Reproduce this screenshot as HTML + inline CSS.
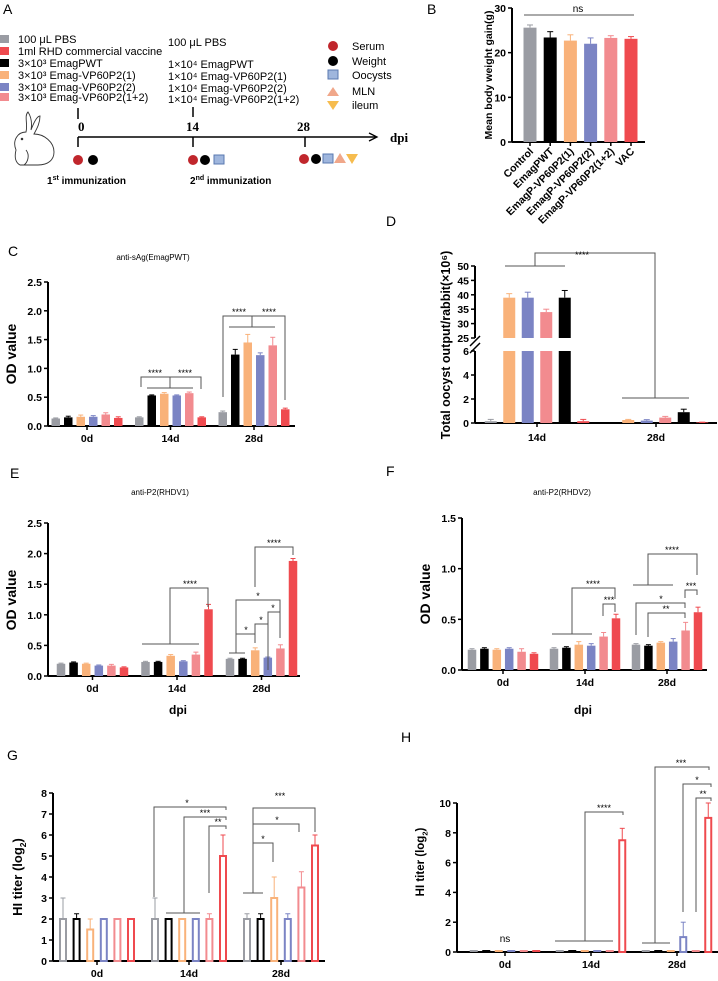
<!DOCTYPE html>
<html><head><meta charset="utf-8">
<style>
body{margin:0;background:#fff;}
svg{display:block;font-family:"Liberation Sans",Arial,sans-serif;}
.t{font-weight:bold;font-size:10.5px;}
.lg{font-size:11px;}
.pl{font-size:14px;}
.st{font-size:9px;}
</style></head>
<body>
<svg id="fig" width="718" height="981" viewBox="0 0 718 981" xmlns="http://www.w3.org/2000/svg">
<text class="pl" x="3" y="14">A</text>
<text class="pl" x="427" y="14">B</text>
<text class="pl" x="8" y="256">C</text>
<text class="pl" x="386" y="226">D</text>
<text class="pl" x="10" y="478">E</text>
<text class="pl" x="386" y="476">F</text>
<text class="pl" x="7" y="760">G</text>
<text class="pl" x="401" y="742">H</text>

<g>
<rect x="0" y="35" width="9" height="8" fill="#9a9ca3"/><text class="lg" x="18" y="43">100 μL PBS</text>
<rect x="0" y="47" width="9" height="8" fill="#ef4a4f"/><text class="lg" x="18" y="55">1ml RHD commercial vaccine</text>
<rect x="0" y="59" width="9" height="8" fill="#000"/><text class="lg" x="18" y="67">3×10³ EmagPWT</text>
<rect x="0" y="71" width="9" height="8" fill="#f9b27a"/><text class="lg" x="18" y="79">3×10³ Emag-VP60P2(1)</text>
<rect x="0" y="83" width="9" height="8" fill="#7b84c4"/><text class="lg" x="18" y="91">3×10³ Emag-VP60P2(2)</text>
<rect x="0" y="93" width="9" height="8" fill="#f28b8f"/><text class="lg" x="18" y="101">3×10³ Emag-VP60P2(1+2)</text>
<text class="lg" x="168" y="46">100 μL PBS</text>
<text class="lg" x="168" y="68">1×10⁴ EmagPWT</text>
<text class="lg" x="168" y="80">1×10⁴ Emag-VP60P2(1)</text>
<text class="lg" x="168" y="92">1×10⁴ Emag-VP60P2(2)</text>
<text class="lg" x="168" y="103">1×10⁴ Emag-VP60P2(1+2)</text>
<circle cx="333" cy="46" r="5" fill="#c0262c"/><text class="lg" x="352" y="50">Serum</text>
<circle cx="333" cy="61" r="5" fill="#000"/><text class="lg" x="352" y="65">Weight</text>
<rect x="328" y="70" width="10" height="9" fill="#9fb6dd" stroke="#5a78b0"/><text class="lg" x="352" y="79">Oocysts</text>
<polygon points="333,87 339,96 327,96" fill="#f0a78a"/><text class="lg" x="352" y="95">MLN</text>
<polygon points="327,101 339,101 333,110" fill="#f6bc4e"/><text class="lg" x="352" y="109">ileum</text>
</g>
<g stroke="#000">
<line x1="78" y1="137" x2="376" y2="137" stroke-width="1.5"/>
<polyline points="369,133 377,137 369,141" fill="none" stroke-width="1.3"/>
<line x1="78" y1="108" x2="78" y2="119" stroke-width="1.5"/>
<line x1="193" y1="107" x2="193" y2="117" stroke-width="1.5"/>
<line x1="78" y1="137" x2="78" y2="147" stroke-width="1.5"/>
<line x1="193" y1="137" x2="193" y2="147" stroke-width="1.5"/>
<line x1="305" y1="137" x2="305" y2="147" stroke-width="1.5"/>
</g>
<g font-family="Liberation Serif,serif" font-weight="bold" font-size="13">
<text x="78" y="131">0</text><text x="186" y="131">14</text><text x="297" y="131">28</text><text x="390" y="142">dpi</text>
</g>
<g>
<circle cx="78" cy="160" r="5" fill="#c0262c"/><circle cx="93" cy="160" r="5" fill="#000"/>
<circle cx="193" cy="160" r="5" fill="#c0262c"/><circle cx="205" cy="160" r="5" fill="#000"/><rect x="214" y="155" width="10" height="9" fill="#9fb6dd" stroke="#5a78b0"/>
<circle cx="304" cy="159" r="5" fill="#c0262c"/><circle cx="316" cy="159" r="5" fill="#000"/><rect x="323" y="154" width="10" height="9" fill="#9fb6dd" stroke="#5a78b0"/>
<polygon points="340,153 346,163 334,163" fill="#f0a78a"/><polygon points="346,154 358,154 352,164" fill="#f6bc4e"/>
</g>
<text font-size="10" font-weight="bold" x="47" y="184">1<tspan font-size="7" dy="-4">st</tspan><tspan dy="4"> immunization</tspan></text>
<text font-size="10" font-weight="bold" x="190" y="184">2<tspan font-size="7" dy="-4">nd</tspan><tspan dy="4"> immunization</tspan></text>
<g fill="none" stroke="#333" stroke-width="0.9">
<path d="M16 150 C12 140 18 132 26 132 C28 124 24 116 28 112 C32 118 32 124 31 130 C34 122 37 116 40 116 C40 124 36 130 34 134 C44 134 54 142 54 152 C54 160 48 165 38 165 L20 165 C16 163 14 158 16 150 Z"/>
<circle cx="22" cy="139" r="0.8" fill="#333"/>
<path d="M26 150 C30 155 28 162 24 165"/>
</g>

<g id="charts"></g>
</svg>
<script>
const colors = ["#9a9ca3","#000000","#f9b27a","#7b84c4","#f28b8f","#ef4a4f"];
const groupLabels = ["0d","14d","28d"];

const bCategories = ["Control","EmagPWT","EmagP-VP60P2(1)","EmagP-VP60P2(2)","EmagP-VP60P2(1+2)","VAC"];
const bColors = ["#9a9ca3","#000000","#f9b27a","#7b84c4","#f28b8f","#ef4a4f"];
const bValues = [25.6, 23.4, 22.7, 22.0, 23.3, 23.1];
const bErrors = [0.6, 1.3, 1.3, 1.3, 0.5, 0.5];
const bTicks = [0, 10, 20, 30];

const cValues = [[0.13,0.15,0.16,0.16,0.20,0.14],[0.15,0.53,0.56,0.53,0.57,0.15],[0.24,1.24,1.45,1.23,1.40,0.29]];
const cErrors = [[0.01,0.02,0.03,0.02,0.03,0.02],[0.01,0.01,0.02,0.01,0.02,0.01],[0.02,0.09,0.14,0.04,0.14,0.02]];
const odTicks = [0.0,0.5,1.0,1.5,2.0,2.5];

const dGroups = ["14d","28d"];
const dColors = ["#9a9ca3","#f9b27a","#7b84c4","#f28b8f","#000000","#ef4a4f"];
const dValues = [[0.15,39,39,34,39,0.15],[0,0.25,0.2,0.45,0.9,0.05]];
const dErrors = [[0.15,1.4,1.9,1.0,2.5,0.15],[0,0.05,0.08,0.1,0.25,0.02]];
const dTicksLow = [0,2,4,6];
const dTicksHigh = [25,30,35,40,45,50];

const eValues = [[0.20,0.22,0.20,0.17,0.17,0.14],[0.23,0.23,0.33,0.24,0.35,1.09],[0.28,0.28,0.42,0.30,0.45,1.88]];
const eErrors = [[0.01,0.01,0.01,0.01,0.02,0.01],[0.01,0.01,0.02,0.01,0.04,0.08],[0.01,0.01,0.04,0.01,0.06,0.04]];

const fValues = [[0.20,0.21,0.20,0.21,0.18,0.16],[0.21,0.22,0.25,0.24,0.33,0.51],[0.25,0.24,0.27,0.28,0.39,0.57]];
const fErrors = [[0.01,0.01,0.01,0.01,0.03,0.01],[0.01,0.01,0.03,0.02,0.04,0.04],[0.01,0.01,0.01,0.03,0.08,0.05]];
const fTicks = [0.0,0.5,1.0,1.5];

const gValues = [[2,2,1.5,2,2,2],[2,2,2,2,2,5],[2,2,3,2,3.5,5.5]];
const gErrors = [[1,0.25,0.5,0,0,0],[1,0,0,0,0.25,1],[0.25,0.25,1,0.25,0.75,0.5]];
const gTicks = [0,1,2,3,4,5,6,7,8];

const hValues = [[0,0,0,0,0,0],[0,0,0,0,0,7.5],[0,0,0,1,0,9]];
const hErrors = [[0,0,0,0,0,0],[0,0,0,0,0,0.8],[0,0,0,1,0,1]];
const hTicks = [0,2,4,6,8,10];

const NS = "http://www.w3.org/2000/svg";
const root = document.getElementById("charts");
function mk(tag, attrs, parent){
  const e = document.createElementNS(NS, tag);
  for (const k in attrs) e.setAttribute(k, attrs[k]);
  (parent||root).appendChild(e);
  return e;
}
function txt(s, x, y, attrs, parent){
  const e = mk("text", Object.assign({x:x,y:y}, attrs), parent);
  e.textContent = s; return e;
}
function line(x1,y1,x2,y2,c,w,parent){ return mk("line",{x1,y1,x2,y2,stroke:c||"#000","stroke-width":w||1},parent); }
function poly(pts, c, parent){ return mk("polyline",{points:pts,fill:"none",stroke:c||"#555","stroke-width":1},parent); }
function hiLabel(x, y, fs){
  const t = mk("text",{x:x,y:y,"text-anchor":"middle","font-weight":"bold","font-size":fs,transform:"rotate(-90 "+x+" "+y+")"});
  
  
  const a = mk("tspan",{},t); a.textContent = "HI titer (log";
  const b = mk("tspan",{"font-size":fs*0.65,dy:fs*0.3},b0=t); b.textContent = "2";
  const c = mk("tspan",{dy:-fs*0.3},t); c.textContent = ")";
}

function groupedChart(o){
  const g = mk("g",{});
  
  
  const ys = v => o.ybase - (v/o.vmax)*(o.ybase-o.ytop);
  const xs = (gi,bi) => o.x0 + gi*o.gstep + (bi-2.5)*o.bstep;
  line(o.ax, o.ytop, o.ax, o.ybase, "#000", 2, g);
  line(o.ax, o.ybase, o.axEnd, o.ybase, "#000", 2, g);
  o.ticks.forEach(t=>{
    const y = ys(t);
    line(o.ax-4, y, o.ax, y, "#000", 1.5, g);
    const tl = txt(o.fmt ? t.toFixed(1) : String(t), o.ax-6, y+4, {"text-anchor":"end","class":"t"}, g);
    
    
  });
  o.values.forEach((grp,gi)=>{
    const gx = o.x0 + gi*o.gstep;
    line(gx, o.ybase, gx, o.ybase+4, "#000", 1.5, g);
    const gl = txt(groupLabels[gi], gx, o.ybase+16, {"text-anchor":"middle","class":"t","font-size":"11"}, g);
    
    
    grp.forEach((v,bi)=>{
      const x = xs(gi,bi), y = ys(v), c = colors[bi];
      const er = o.errors[gi][bi];
      if (er>0){
        const ye = ys(v+er);
        line(x, y, x, ye, c, 1, g);
        line(x-2.5, ye, x+2.5, ye, c, 1, g);
      }
      let r;
      if (o.hollow){
        r = mk("rect",{x:x-o.bw/2+1,y:y,width:o.bw-2,height:Math.max(0,o.ybase-y),fill:"#fff","fill-opacity":"0",stroke:c,"stroke-width":2},g);
        if (v===0) r = mk("rect",{x:x-o.bw/2,y:o.ybase-2,width:o.bw,height:2,fill:c},g);
      } else {
        r = mk("rect",{x:x-o.bw/2,y:y,width:o.bw,height:o.ybase-y,fill:c},g);
      }
      
      
    });
  });
  return g;
}

(function(){
  const g = mk("g",{});
  
  
  const ax=512, yb=142, yt=8, vmax=30;
  const ys = v => yb - v/vmax*(yb-yt);
  const xs = i => 530 + i*20.2;
  line(ax, yt, ax, yb, "#000", 2, g);
  line(ax, yb, 645, yb, "#000", 2, g);
  bTicks.forEach(t=>{ line(ax-4, ys(t), ax, ys(t), "#000", 1.5, g);
    const tl = txt(String(t), ax-6, ys(t)+4, {"text-anchor":"end","class":"t"}, g);
    
    
  });
  bValues.forEach((v,i)=>{
    const x = xs(i), y = ys(v), c = bColors[i];
    const ye = ys(v + bErrors[i]);
    line(x, y, x, ye, c, 1, g); line(x-3, ye, x+3, ye, c, 1, g);
    const r = mk("rect",{x:x-6.5,y:y,width:13,height:yb-y,fill:c},g);
    
    
    line(x, yb, x, yb+4, "#000", 1.5, g);
    const l = txt(bCategories[i], x+4, yb+10, {"text-anchor":"end","class":"t","font-size":"10",transform:"rotate(-45 "+(x+4)+" "+(yb+10)+")"}, g);
    
    
  });
  line(524, 15, 634, 15, "#555", 1, g);
  txt("ns", 578, 12, {"text-anchor":"middle","font-size":"10"}, g);
  const yl = txt("Mean body weight gain(g)", 492, 75, {"text-anchor":"middle","class":"t","font-size":"10.5",transform:"rotate(-90 492 75)"}, g);
  
  
})();

groupedChart({name:"anti-sag-chart",ax:48,axEnd:295,ytop:282,ybase:426,vmax:2.5,x0:87,gstep:83.5,bstep:12.5,bw:8.5,values:cValues,errors:cErrors,ticks:odTicks,fmt:true});
txt("anti-sAg(EmagPWT)", 153, 260, {"text-anchor":"middle","font-size":"8"});
txt("OD value", 16, 354, {"text-anchor":"middle","font-weight":"bold","font-size":"14",transform:"rotate(-90 16 354)"});
poly("141,387 141,377 201,377 201,389","#555"); poly("147,388 193,388","#555"); poly("170,377 170,388","#555");
txt("****",155,376,{"class":"st","text-anchor":"middle"}); txt("****",185,376,{"class":"st","text-anchor":"middle"});
poly("223,397 223,316 285,316 285,400","#555"); poly("229,327 275,327","#555"); poly("252,316 252,327","#555");
txt("****",239,315,{"class":"st","text-anchor":"middle"}); txt("****",269,315,{"class":"st","text-anchor":"middle"});

(function(){
  const g = mk("g",{});
  
  
  const ax=475, yb=423, lowTop=351, hiBot=338, hiTop=266;
  const yLow = v => yb - v/6*(yb-lowTop);
  const yHi = v => hiBot - (v-25)/25*(hiBot-hiTop);
  const ys = v => v<=6 ? yLow(v) : (v>=25 ? yHi(v) : lowTop);
  const xs = (gi,bi) => [537,656][gi] + (bi-2.5)*18.5;
  line(ax, lowTop, ax, yb, "#000", 2, g);
  line(ax, hiTop, ax, hiBot, "#000", 2, g);
  line(ax-5, hiBot+8, ax+5, hiBot-2, "#000", 1.5, g);
  line(ax-5, lowTop+2, ax+5, lowTop-8, "#000", 1.5, g);
  line(ax, yb, 717, yb, "#000", 2, g);
  dTicksLow.forEach(t=>{ line(ax-4,yLow(t),ax,yLow(t),"#000",1.5,g);
    const tl = txt(String(t), ax-6, yLow(t)+4, {"text-anchor":"end","class":"t","font-size":"11.5"}, g);
      });
  dTicksHigh.forEach(t=>{ line(ax-4,yHi(t),ax,yHi(t),"#000",1.5,g);
    const tl = txt(String(t), ax-6, yHi(t)+4, {"text-anchor":"end","class":"t","font-size":"11.5"}, g);
      });
  dValues.forEach((grp,gi)=>{
    const gx=[537,656][gi];
    line(gx,yb,gx,yb+4,"#000",1.5,g);
    const gl = txt(dGroups[gi], gx, yb+18, {"text-anchor":"middle","class":"t","font-size":"11"}, g);
     
    grp.forEach((v,bi)=>{
      const x=xs(gi,bi), c=dColors[bi], er=dErrors[gi][bi];
      if (er>0){ const ye=ys(v+er); line(x,ys(v),x,ye,c,1,g); line(x-3,ye,x+3,ye,c,1,g); }
      if (v>6){
        const r1 = mk("rect",{x:x-6,y:lowTop,width:12,height:yb-lowTop,fill:c},g);
        
        
        const y = ys(v);
        const r2 = mk("rect",{x:x-6,y:y,width:12,height:hiBot-y,fill:c},g);
        
        
      } else {
        const y = ys(v);
        const r = mk("rect",{x:x-6,y:y,width:12,height:yb-y,fill:c},g);
        
        
      }
    });
  });
  poly("505,266 565,266","#555",g); poly("535,266 535,253 655,253 655,398","#555",g); poly("622,398 689,398","#555",g);
  txt("****",582,258,{"class":"st","text-anchor":"middle"},g);
  const yl = txt("Total oocyst output/rabbit(×10⁶)", 450, 345, {"text-anchor":"middle","font-weight":"bold","font-size":"12.5",transform:"rotate(-90 450 345)"}, g);
   
})();

groupedChart({name:"anti-p2-rhdv1-chart",ax:48,axEnd:300,ytop:523,ybase:676,vmax:2.5,x0:92.5,gstep:84.5,bstep:12.6,bw:8.5,values:eValues,errors:eErrors,ticks:odTicks,fmt:true});
txt("anti-P2(RHDV1)", 160, 495, {"text-anchor":"middle","font-size":"8"});
txt("OD value", 16, 600, {"text-anchor":"middle","font-weight":"bold","font-size":"14",transform:"rotate(-90 16 600)"});
txt("dpi", 178, 714, {"text-anchor":"middle","font-weight":"bold","font-size":"12"});
poly("142,644 199,644","#555"); poly("170,644 170,588 208,588 208,607","#555"); txt("****",190,587,{"class":"st","text-anchor":"middle"});
poly("255,587 255,547 293,547 293,555","#555"); txt("****",274,546,{"class":"st","text-anchor":"middle"});
poly("229,653 245,653","#555"); poly("236,653 236,600 280,600 280,638","#555"); txt("*",258,599,{"class":"st","text-anchor":"middle"});
poly("236,634 255,634 255,643","#555"); txt("*",246,633,{"class":"st","text-anchor":"middle"});
poly("255,643 255,624 268,624 268,670","#555"); txt("*",261,623,{"class":"st","text-anchor":"middle"});
poly("268,640 268,612 280,612 280,636","#555"); txt("*",273,611,{"class":"st","text-anchor":"middle"});

groupedChart({name:"anti-p2-rhdv2-chart",ax:462,axEnd:707,ytop:518,ybase:670,vmax:1.5,x0:503,gstep:82,bstep:12.4,bw:8.5,values:fValues,errors:fErrors,ticks:fTicks,fmt:true});
txt("anti-P2(RHDV2)", 562, 495, {"text-anchor":"middle","font-size":"8"});
txt("OD value", 430, 594, {"text-anchor":"middle","font-weight":"bold","font-size":"14",transform:"rotate(-90 430 594)"});
txt("dpi", 583, 714, {"text-anchor":"middle","font-weight":"bold","font-size":"12"});
poly("552,634 592,634","#555"); poly("572,634 572,588 615,588 615,599","#555"); txt("****",593,587,{"class":"st","text-anchor":"middle"});
poly("603,616 603,604 615,604 615,612","#555"); txt("***",609,603,{"class":"st","text-anchor":"middle"});
poly("633,585 673,585","#555"); poly("648,585 648,554 697,554 697,575","#555"); txt("****",672,553,{"class":"st","text-anchor":"middle"});
poly("685,598 685,590 697,590 697,595","#555"); txt("***",691,589,{"class":"st","text-anchor":"middle"});
poly("636,635 636,603 685,603 685,608","#555"); txt("*",661,602,{"class":"st","text-anchor":"middle"});
poly("648,637 648,613 685,613 685,618","#555"); txt("**",666,612,{"class":"st","text-anchor":"middle"});

groupedChart({name:"hi-titer-rhdv1-chart",ax:53,axEnd:325,ytop:793,ybase:961,vmax:8,x0:97,gstep:92,bstep:13.6,bw:8,values:gValues,errors:gErrors,ticks:gTicks,fmt:false,hollow:true});
hiLabel(22, 877, 13);
poly("154,897 154,807 226,807 226,810","#555"); txt("*",187,806,{"class":"st","text-anchor":"middle"});
poly("166,913 200,913","#555"); poly("184,913 184,817 226,817 226,820","#555"); txt("***",205,816,{"class":"st","text-anchor":"middle"});
poly("209,893 209,826 226,826 226,829","#555"); txt("**",218,825,{"class":"st","text-anchor":"middle"});
poly("243,893 263,893","#555"); poly("253,893 253,808 315,808 315,832","#555"); txt("***",280,799,{"class":"st","text-anchor":"middle"});
poly("253,824 299,824 299,832","#555"); txt("*",277,823,{"class":"st","text-anchor":"middle"});
poly("253,843 273,843 273,862","#555"); txt("*",263,842,{"class":"st","text-anchor":"middle"});

groupedChart({name:"hi-titer-rhdv2-chart",ax:457,axEnd:718,ytop:803,ybase:952,vmax:10,x0:505,gstep:86,bstep:12.5,bw:8,values:hValues,errors:hErrors,ticks:hTicks,fmt:false,hollow:true});
hiLabel(424, 862, 11.5);
txt("ns", 505, 942, {"text-anchor":"middle","font-size":"10"});
poly("555,941 613,941","#555"); poly("585,941 585,812 623,812 623,815","#555"); txt("****",604,811,{"class":"st","text-anchor":"middle"});
poly("642,943 670,943","#555"); poly("655,943 655,767 709,767 709,770","#555"); txt("***",681,766,{"class":"st","text-anchor":"middle"});
poly("683,912 683,784 711,784 711,787","#555"); txt("*",697,783,{"class":"st","text-anchor":"middle"});
poly("696,912 696,798 711,798 711,801","#555"); txt("**",703,797,{"class":"st","text-anchor":"middle"});
</script>
</body></html>
